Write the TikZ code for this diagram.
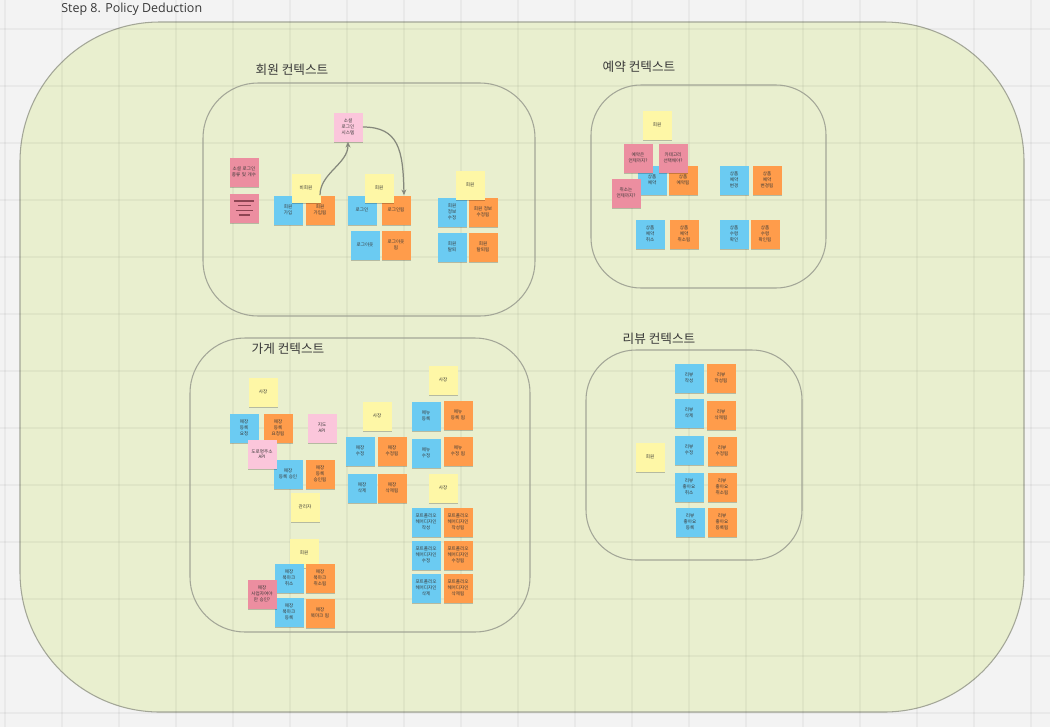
\documentclass[tikz,border=0pt]{standalone}
\usepackage{fontspec}
\setmainfont{Open Sans}
\newfontfamily\kr{Noto Sans CJK KR}
\usetikzlibrary{shadows,arrows.meta}
\definecolor{bgc}{HTML}{F3F3F3}
\definecolor{areac}{HTML}{E9EFCF}
\definecolor{linec}{HTML}{A3A697}
\definecolor{flowc}{HTML}{85887C}
\definecolor{sblue}{HTML}{6BCBF2}
\definecolor{sorange}{HTML}{FF9C4B}
\definecolor{syellow}{HTML}{FEF7A6}
\definecolor{spink}{HTML}{FBC6DB}
\definecolor{sred}{HTML}{EC8EA0}
\definecolor{memoc}{HTML}{8E4453}
\definecolor{txt}{HTML}{383838}
\tikzset{
  sticky/.style={rectangle, minimum width=0.58cm, minimum height=0.58cm, inner sep=0pt,
    text width=0.54cm, align=center, font={\kr\fontsize{2.6pt}{3.3pt}\selectfont}, text=txt,
    drop shadow={shadow xshift=0pt, shadow yshift=-0.9pt, opacity=0.22, fill=black}},
  cmd/.style={sticky, fill=sblue},
  evt/.style={sticky, fill=sorange},
  act/.style={sticky, fill=syellow},
  ext/.style={sticky, fill=spink},
  hot/.style={sticky, fill=sred},
  ctx/.style={draw=linec, line width=0.6pt},
  ctxlabel/.style={font={\kr\fontsize{7.2pt}{8pt}\selectfont}, text=txt},
  flow/.style={draw=flowc, line width=0.7pt, -{Stealth[length=3.2pt,width=2.8pt]}},
}
\begin{document}
\begin{tikzpicture}[x=0.02cm, y={(0cm,-0.02cm)}]
\useasboundingbox (0,0) rectangle (1050,727);
\fill[bgc] (0,0) rectangle (1050,727);
% outer area
\draw[ctx, fill=areac, rounded corners=2.8cm] (20,22) rectangle (1024,712);
% grid
\foreach \gx in {5,62,...,1050} \draw[black, opacity=0.04, line width=0.8pt] (\gx,0) -- (\gx,727);
\foreach \gy in {29,86,...,727} \draw[black, opacity=0.04, line width=0.8pt] (0,\gy) -- (1050,\gy);
\node[anchor=west, inner sep=0pt, font={\fontsize{7.1pt}{8pt}\selectfont}, text=txt] (title) at (61,9) {Step 8. Policy Deduction};

% contexts
\draw[ctx, rounded corners=1.1cm] (203,83) rectangle (535,316);
\draw[ctx, rounded corners=1cm] (591,85) rectangle (826,288);
\draw[ctx, rounded corners=1.1cm] (190,338) rectangle (530,632);
\draw[ctx, rounded corners=1cm] (586,350) rectangle (802,560);
\node[ctxlabel] (l-member) at (292,70) {회원 컨텍스트};
\node[ctxlabel] (l-resv) at (639,67) {예약 컨텍스트};
\node[ctxlabel] (l-store) at (288,349) {가게 컨텍스트};
\node[ctxlabel] (l-review) at (659,339) {리뷰 컨텍스트};

% ---------- member context
\node[ext] (m-social) at (348,127) {소셜\\로그인\\시스템};
\node[hot] (m-q) at (244,172) {소셜 로그인\\종류 및 개수};
\node[hot] (m-memo) at (244,208) {};
\foreach \dy/\w in {-7.3/10, -2.5/6.5, 2.5/8.5, 7.3/5.5}
  \draw[memoc, line width=1.1pt] ([shift={(-\w,\dy)}]m-memo.center) -- ([shift={(\w,\dy)}]m-memo.center);
\node[cmd] (m-join) at (288,210) {회원\\가입};
\node[evt] (m-joined) at (320,210) {회원\\가입됨};
\node[act] (m-guest) at (306,188) {비회원};
\node[cmd] (m-login) at (362,210) {로그인};
\node[evt] (m-loggedin) at (396,210) {로그인됨};
\node[cmd] (m-logout) at (365,245) {로그아웃};
\node[evt] (m-loggedout) at (396,245) {로그아웃\\됨};
\node[act] (m-user1) at (379,188) {회원};
\node[cmd] (m-edit) at (452,212) {회원\\정보\\수정};
\node[evt] (m-edited) at (483,212) {회원 정보\\수정됨};
\node[cmd] (m-quit) at (452,247) {회원\\탈퇴};
\node[evt] (m-quitted) at (483,247) {회원\\탈퇴됨};
\node[act] (m-user2) at (470,185) {회원};
\draw[flow] (m-joined.north) .. controls +(0,-22) and +(0,22) .. (m-social.south);
\draw[flow] (m-social.east) .. controls +(36,0) and +(-1,-45) .. ([xshift=0.16cm]m-loggedin.north);

% ---------- reservation context
\node[act] (r-user) at (657,125) {회원};
\node[cmd] (r-book) at (652,180) {상품\\예약};
\node[evt] (r-booked) at (683,180) {상품\\예약됨};
\node[cmd] (r-change) at (734,180) {상품\\예약\\변경};
\node[evt] (r-changed) at (767,180) {상품\\예약\\변경됨};
\node[cmd] (r-cancel) at (650,234) {상품\\예약\\취소};
\node[evt] (r-canceled) at (684,234) {상품\\예약\\취소됨};
\node[cmd] (r-receive) at (734,234) {상품\\수령\\확인};
\node[evt] (r-received) at (765,234) {상품\\수령\\확인됨};
\node[hot] (r-q1) at (638,158) {예약은\\언제까지?};
\node[hot] (r-q2) at (673,158) {카테고리\\선택해야?};
\node[hot] (r-q3) at (626,193) {취소는\\언제까지?};

% ---------- store context (left)
\node[cmd] (s-req) at (244,428) {매장\\등록\\요청};
\node[evt] (s-reqd) at (278,428) {매장\\등록\\요청됨};
\node[act] (s-owner1) at (263,392) {사장};
\node[ext] (s-map) at (322,428) {지도\\API};
\node[cmd] (s-approve) at (288,474) {매장\\등록 승인};
\node[evt] (s-approved) at (320,474) {매장\\등록\\승인됨};
\node[ext] (s-addr) at (262,454) {도로명주소\\API};
\node[act] (s-admin) at (305,507) {관리자};
\node[act] (s-user) at (304,553) {회원};
\node[cmd] (s-bmcancel) at (289,578) {매장\\북마크\\취소};
\node[evt] (s-bmcanceled) at (320,578) {매장\\북마크\\취소됨};
\node[cmd] (s-bm) at (289,612) {매장\\북마크\\등록};
\node[evt] (s-bmd) at (320,613) {매장\\북마크 됨};
\node[hot] (s-q) at (262,594) {매장\\사업자여야\\만 승인?};

% ---------- store context (right)
\node[act] (s-owner2) at (443,380) {사장};
\node[act] (s-owner3) at (377,416) {사장};
\node[cmd] (s-menu) at (426,416) {메뉴\\등록};
\node[evt] (s-menud) at (458,415) {메뉴\\등록 됨};
\node[cmd] (s-edit) at (360,451) {매장\\수정};
\node[evt] (s-edited) at (392,451) {매장\\수정됨};
\node[cmd] (s-menuedit) at (426,453) {메뉴\\수정};
\node[evt] (s-menuedited) at (458,451) {메뉴\\수정 됨};
\node[cmd] (s-del) at (362,488) {매장\\삭제};
\node[evt] (s-deld) at (392,488) {매장\\삭제됨};
\node[act] (s-owner4) at (443,488) {사장};
\node[cmd] (s-pf1) at (426,522) {포트폴리오\\헤어디자인\\작성};
\node[evt] (s-pf1e) at (458,522) {포트폴리오\\헤어디자인\\작성됨};
\node[cmd] (s-pf2) at (426,555) {포트폴리오\\헤어디자인\\수정};
\node[evt] (s-pf2e) at (458,555) {포트폴리오\\헤어디자인\\수정됨};
\node[cmd] (s-pf3) at (426,588) {포트폴리오\\헤어디자인\\삭제};
\node[evt] (s-pf3e) at (458,588) {포트폴리오\\헤어디자인\\삭제됨};

% ---------- review context
\node[cmd] (v-write) at (689,378) {리뷰\\작성};
\node[evt] (v-written) at (721,378) {리뷰\\작성됨};
\node[cmd] (v-del) at (689,413) {리뷰\\삭제};
\node[evt] (v-deleted) at (721,415) {리뷰\\삭제됨};
\node[cmd] (v-edit) at (689,450) {리뷰\\수정};
\node[evt] (v-edited) at (722,451) {리뷰\\수정됨};
\node[cmd] (v-unlike) at (689,487) {리뷰\\좋아요\\취소};
\node[evt] (v-unliked) at (722,487) {리뷰\\좋아요\\취소됨};
\node[cmd] (v-like) at (690,522) {리뷰\\좋아요\\등록};
\node[evt] (v-liked) at (722,522) {리뷰\\좋아요\\등록됨};
\node[act] (v-user) at (650,457) {회원};
\end{tikzpicture}
\end{document}
